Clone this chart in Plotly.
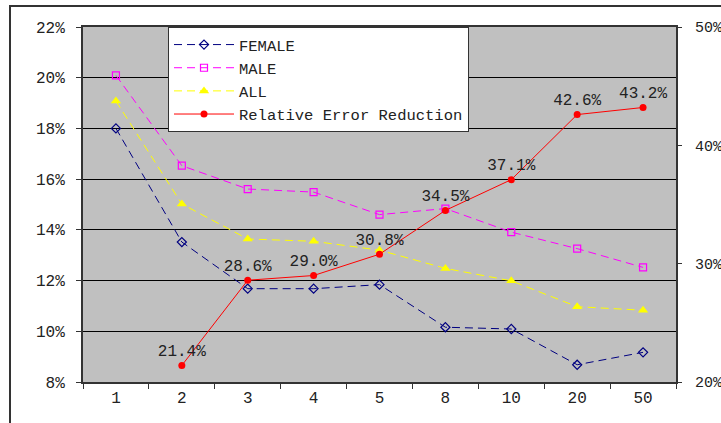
import plotly.graph_objects as go

categories = ["1", "2", "3", "4", "5", "8", "10", "20", "50"]
female = [18.0, 13.52, 11.68, 11.68, 11.84, 10.16, 10.09, 8.68, 9.17]
male = [20.09, 16.53, 15.61, 15.49, 14.60, 14.84, 13.91, 13.26, 12.52]
all_ = [19.08, 15.02, 13.64, 13.55, 13.20, 12.48, 11.99, 10.97, 10.83]
rer_cats = ["2", "3", "4", "5", "8", "10", "20", "50"]
rer = [21.4, 28.6, 29.0, 30.8, 34.5, 37.1, 42.6, 43.2]
rer_labels = ["21.4%", "28.6%", "29.0%", "30.8%", "34.5%", "37.1%", "42.6%", "43.2%"]

FONT = "Liberation Mono"
TXT = "#222222"

fig = go.Figure()
fig.add_trace(go.Scatter(
    x=categories, y=female, name="FEMALE", mode="lines+markers",
    line=dict(color="#000080", width=1, dash="8px,5px"),
    marker=dict(symbol="diamond-open", size=7, color="#000080", line=dict(width=1.2)),
))
fig.add_trace(go.Scatter(
    x=categories, y=male, name="MALE", mode="lines+markers",
    line=dict(color="#FF00FF", width=1, dash="8px,5px"),
    marker=dict(symbol="square-open", size=7, color="#FF00FF", line=dict(width=1.2)),
))
fig.add_trace(go.Scatter(
    x=categories, y=all_, name="ALL", mode="lines+markers",
    line=dict(color="#FFFF00", width=1, dash="8px,5px"),
    marker=dict(symbol="triangle-up", size=9, color="#FFFF00"),
))
fig.add_trace(go.Scatter(
    x=rer_cats, y=rer, name="Relative Error Reduction", mode="lines+markers+text",
    yaxis="y2",
    line=dict(color="#FF0000", width=1),
    marker=dict(symbol="circle", size=7, color="#FF0000"),
    text=rer_labels, textposition="top center",
    textfont=dict(family=FONT, size=16, color=TXT),
))

L, R, T, B = 83, 45, 27, 41
W, H = 721, 423
pw, ph = W - L - R, H - T - B

fig.add_shape(type="rect", xref="paper", yref="paper",
              x0=(10 - L) / pw, x1=1.3, y0=-0.3, y1=1 + (T - 6) / ph,
              line=dict(color="#333333", width=2), fillcolor="rgba(0,0,0,0)", layer="below")

fig.update_layout(
    width=W, height=H,
    margin=dict(l=L, r=R, t=T, b=B, autoexpand=False),
    paper_bgcolor="white", plot_bgcolor="#C0C0C0",
    font=dict(family=FONT, size=16, color=TXT),
    showlegend=True,
    legend=dict(
        x=(168 - L) / pw, y=1, xanchor="left", yanchor="top",
        bgcolor="white", bordercolor="#333333", borderwidth=1,
        font=dict(family=FONT, size=15.5, color=TXT),
        itemwidth=60, tracegroupgap=0,
    ),
    xaxis=dict(
        type="category", categoryorder="array", categoryarray=categories,
        range=[-0.5, 8.5], tickson="boundaries", ticks="outside", ticklen=5,
        tickcolor="#333333", showline=True, linecolor="#333333", linewidth=2,
        mirror=True, showgrid=False, zeroline=False, automargin=False,
        tickfont=dict(family=FONT, size=16, color=TXT),
    ),
    yaxis=dict(
        range=[8, 22], dtick=2, ticksuffix="%", ticks="outside", ticklen=5,
        tickcolor="#333333", showline=True, linecolor="#333333", linewidth=2,
        mirror=True, showgrid=True, gridcolor="#000000", gridwidth=1,
        zeroline=False, automargin=False, tickfont=dict(family=FONT, size=16, color=TXT),
        ticklabelstandoff=8,
    ),
    yaxis2=dict(
        overlaying="y", side="right", range=[20, 50], dtick=10, ticksuffix="%",
        ticks="outside", ticklen=5, tickcolor="#333333", showgrid=False,
        zeroline=False, showline=False, automargin=False,
        tickfont=dict(family=FONT, size=15, color=TXT),
        ticklabelstandoff=10,
    ),
)

fig.write_html("out.html")
